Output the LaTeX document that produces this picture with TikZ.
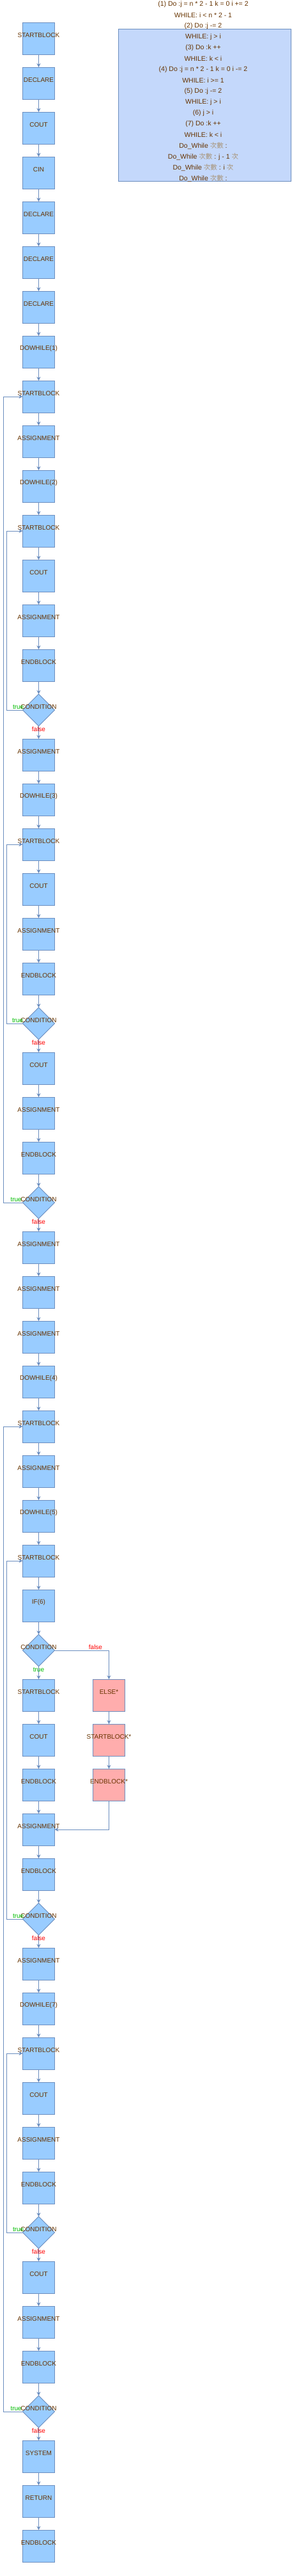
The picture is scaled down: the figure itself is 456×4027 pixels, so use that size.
\documentclass[tikz,border=0pt]{standalone}
\usepackage{fontspec}
\setmainfont{Liberation Sans}
\newfontfamily\cjk{Noto Sans CJK TC}
\usetikzlibrary{shapes.geometric,arrows.meta}
\definecolor{bfill}{HTML}{99CCFF}
\definecolor{bline}{HTML}{6C8EBF}
\definecolor{pfill}{HTML}{FFADAD}
\definecolor{tcol}{HTML}{663300}
\definecolor{tcjk}{HTML}{A89478}
\definecolor{tgreen}{HTML}{00BB00}
\definecolor{tred}{HTML}{FF0000}
\definecolor{notefill}{HTML}{C4D8FB}
\newcommand\cn[1]{{\cjk\textcolor{tcjk}{#1}}}
\newcommand\fcb[4][box]{\node[#1] (#2) at (60.5,#3) {}; \node[txt] at ([yshift=5pt]#2.center) {#4};}
\begin{document}
\begin{tikzpicture}[x=1pt,y=-1pt,
  box/.style={draw=bline, fill=bfill, line width=0.8pt, minimum width=50pt, minimum height=50pt, inner sep=0pt, outer sep=0pt},
  pbox/.style={box, fill=pfill},
  dia/.style={draw=bline, fill=bfill, line width=0.8pt, shape=diamond, aspect=1, minimum width=50pt, minimum height=50pt, inner sep=0pt, outer sep=0pt},
  txt/.style={text=tcol, font=\fontsize{10}{12}\selectfont, inner sep=0pt},
  arr/.style={draw=bline, line width=0.8pt, -{Stealth[length=6pt,width=6pt,inset=2pt]}},
  tlab/.style={text=tgreen, font=\fontsize{10}{12}\selectfont, inner sep=0pt},
  flab/.style={text=tred, font=\fontsize{10}{12}\selectfont, inner sep=0pt},
  notebox/.style={draw=bline, fill=notefill, line width=0.8pt, minimum width=270pt, minimum height=237.6pt, inner sep=0pt},
  note/.style={text=tcol, font=\fontsize{10.5}{12}\selectfont, inner sep=0pt}
]
\useasboundingbox (0,0) rectangle (456,4027);

% note box
\node[notebox] (note) at (320.3,164.5) {};
\foreach \t [count=\i from 0] in {
  {(1) Do :j = n * 2 - 1 k = 0 i += 2},
  {WHILE: i < n * 2 - 1},
  {(2) Do :j -= 2},
  {WHILE: j > i},
  {(3) Do :k ++},
  {WHILE: k < i},
  {(4) Do :j = n * 2 - 1 k = 0 i -= 2},
  {WHILE: i >= 1},
  {(5) Do :j -= 2},
  {WHILE: j > i},
  {(6) j > i},
  {(7) Do :k ++},
  {WHILE: k < i},
  {Do\_While \cn{次數} :},
  {Do\_While \cn{次數} : j - 1 \cn{次}},
  {Do\_While \cn{次數} : i \cn{次}},
  {Do\_While \cn{次數} :}}
  \node[note] (nl\i) at (318,{6.7+17*\i}) {\t};

% main column
\fcb{n0}{60}{STARTBLOCK}
\fcb{n1}{130}{DECLARE}
\fcb{n2}{200}{COUT}
\fcb{n3}{270}{CIN}
\fcb{n4}{340}{DECLARE}
\fcb{n5}{410}{DECLARE}
\fcb{n6}{480}{DECLARE}
\fcb{n7}{550}{DOWHILE(1)}
\fcb{n8}{620}{STARTBLOCK}
\fcb{n9}{690}{ASSIGNMENT}
\fcb{n10}{760}{DOWHILE(2)}
\fcb{n11}{830}{STARTBLOCK}
\fcb{n12}{900}{COUT}
\fcb{n13}{970}{ASSIGNMENT}
\fcb{n14}{1040}{ENDBLOCK}
\fcb[dia]{n15}{1110}{CONDITION}
\fcb{n16}{1180}{ASSIGNMENT}
\fcb{n17}{1250}{DOWHILE(3)}
\fcb{n18}{1320}{STARTBLOCK}
\fcb{n19}{1390}{COUT}
\fcb{n20}{1460}{ASSIGNMENT}
\fcb{n21}{1530}{ENDBLOCK}
\fcb[dia]{n22}{1600}{CONDITION}
\fcb{n23}{1670}{COUT}
\fcb{n24}{1740}{ASSIGNMENT}
\fcb{n25}{1810}{ENDBLOCK}
\fcb[dia]{n26}{1880}{CONDITION}
\fcb{n27}{1950}{ASSIGNMENT}
\fcb{n28}{2020}{ASSIGNMENT}
\fcb{n29}{2090}{ASSIGNMENT}
\fcb{n30}{2160}{DOWHILE(4)}
\fcb{n31}{2230}{STARTBLOCK}
\fcb{n32}{2300}{ASSIGNMENT}
\fcb{n33}{2370}{DOWHILE(5)}
\fcb{n34}{2440}{STARTBLOCK}
\fcb{n35}{2510}{IF(6)}
\fcb[dia]{n36}{2580}{CONDITION}
\fcb{n37}{2650}{STARTBLOCK}
\fcb{n38}{2720}{COUT}
\fcb{n39}{2790}{ENDBLOCK}
\fcb{n40}{2860}{ASSIGNMENT}
\fcb{n41}{2930}{ENDBLOCK}
\fcb[dia]{n42}{3000}{CONDITION}
\fcb{n43}{3070}{ASSIGNMENT}
\fcb{n44}{3140}{DOWHILE(7)}
\fcb{n45}{3210}{STARTBLOCK}
\fcb{n46}{3280}{COUT}
\fcb{n47}{3350}{ASSIGNMENT}
\fcb{n48}{3420}{ENDBLOCK}
\fcb[dia]{n49}{3490}{CONDITION}
\fcb{n50}{3560}{COUT}
\fcb{n51}{3630}{ASSIGNMENT}
\fcb{n52}{3700}{ENDBLOCK}
\fcb[dia]{n53}{3770}{CONDITION}
\fcb{n54}{3840}{SYSTEM}
\fcb{n55}{3910}{RETURN}
\fcb{n56}{3980}{ENDBLOCK}

% else branch
\node[pbox] (e1) at (170.5,2650) {}; \node[txt] at ([yshift=5pt]e1.center) {ELSE*};
\node[pbox] (e2) at (170.5,2720) {}; \node[txt] at ([yshift=5pt]e2.center) {STARTBLOCK*};
\node[pbox] (e3) at (170.5,2790) {}; \node[txt] at ([yshift=5pt]e3.center) {ENDBLOCK*};

% straight arrows
\foreach \i [evaluate=\i as \j using int(\i+1)] in {0,...,55}
  \draw[arr] (n\i.south) -- (n\j.north);

% loops
\draw[arr] (n15.west) -| ([xshift=-25pt]n11.west) -- (n11.west);
\draw[arr] (n22.west) -| ([xshift=-25pt]n18.west) -- (n18.west);
\draw[arr] (n26.west) -| ([xshift=-30pt]n8.west) -- (n8.west);
\draw[arr] (n42.west) -| ([xshift=-25pt]n34.west) -- (n34.west);
\draw[arr] (n49.west) -| ([xshift=-25pt]n45.west) -- (n45.west);
\draw[arr] (n53.west) -| ([xshift=-30pt]n31.west) -- (n31.west);

% else
\draw[arr] (n36.east) -| (e1.north);
\draw[arr] (e1.south) -- (e2.north);
\draw[arr] (e2.south) -- (e3.north);
\draw[arr] (e3.south) |- (n40.east);

% true labels
\foreach \d in {n15,n42,n49}
  \node[tlab,anchor=east] at ([xshift=2pt,yshift=5pt]\d.west) {true};
\node[tlab,anchor=east] at ([xshift=1pt,yshift=5pt]n22.west) {true};
\foreach \d in {n26,n53}
  \node[tlab,anchor=east] at ([xshift=-1.5pt,yshift=5pt]\d.west) {true};
\node[tlab] at ([yshift=-5pt]n36.south) {true};

% false labels
\foreach \d in {n15,n22,n26,n42,n49,n53}
  \node[flab] at ([yshift=-5pt]\d.south) {false};
\node[flab] at ([xshift=64pt,yshift=5pt]n36.east) {false};
\end{tikzpicture}
\end{document}
